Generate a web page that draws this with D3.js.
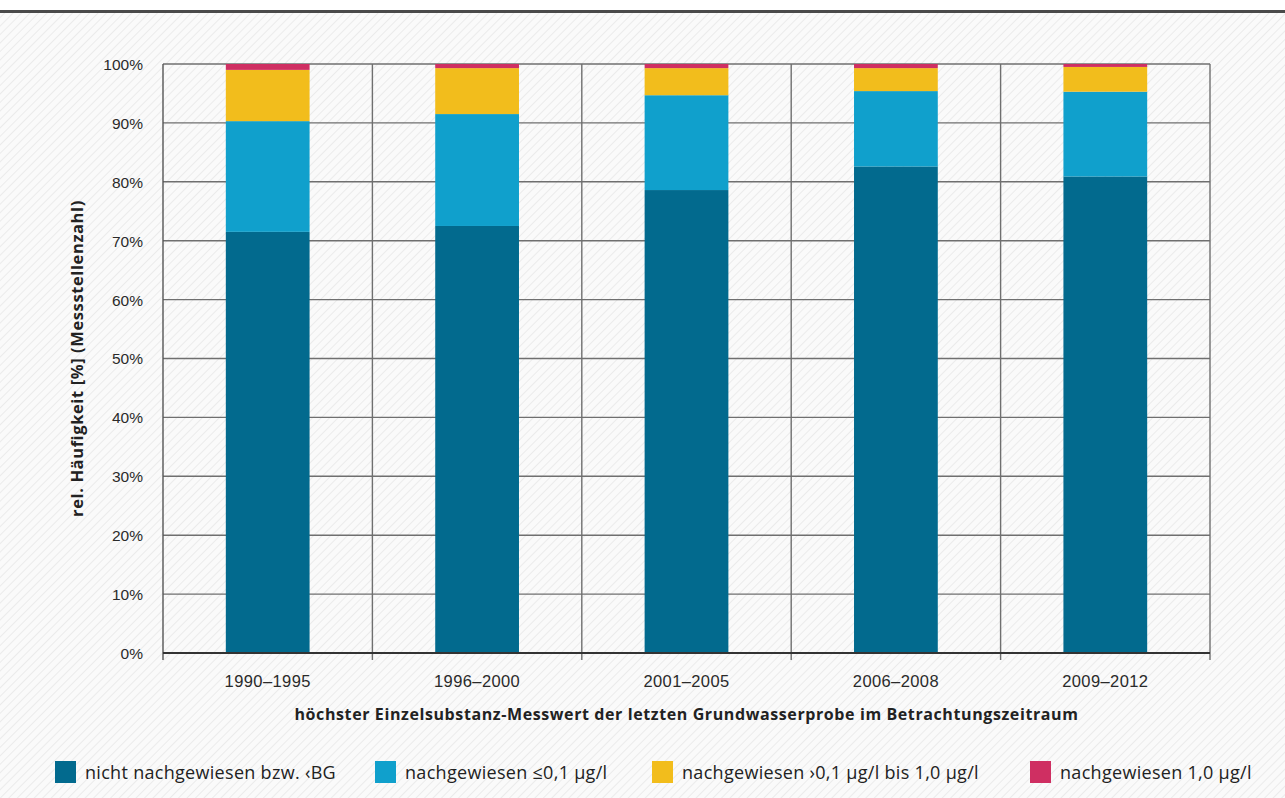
<!DOCTYPE html>
<html lang="de">
<head>
<meta charset="utf-8">
<script src="https://cdn.jsdelivr.net/npm/d3@7"></script>
<style>
  html, body { margin: 0; padding: 0; background: #ffffff; }
  svg { display: block; font-family: "Open Sans", "Noto Sans", sans-serif; }
</style>
</head>
<body>
<svg id="chart" width="1285" height="798"></svg>
<script>
// Zeiträume (Kategorien)
const periods = ["1990–1995", "1996–2000", "2001–2005", "2006–2008", "2009–2012"];

// Anteile der Messstellen je Befundklasse in %
const nichtNachgewiesen = [71.5, 72.5, 78.6, 82.6, 80.9];
const bis01 = [18.8, 19.0, 16.1, 12.8, 14.4];
const bis10 = [8.7, 7.8, 4.6, 3.9, 4.2];
const ueber10 = [1.0, 0.7, 0.7, 0.7, 0.5];

const seriesLabels = [
  "nicht nachgewiesen bzw. ‹BG",
  "nachgewiesen ≤0,1 µg/l",
  "nachgewiesen ›0,1 µg/l bis 1,0 µg/l",
  "nachgewiesen 1,0 µg/l"
];
const seriesKeys = ["nn", "b01", "b10", "u10"];
const seriesColors = ["#026a8e", "#10a0cc", "#f2bd1c", "#cf2f62"];

const yTicks = [0, 10, 20, 30, 40, 50, 60, 70, 80, 90, 100];

const yTitle = "rel. Häufigkeit [%] (Messstellenzahl)";
const xTitle = "höchster Einzelsubstanz-Messwert der letzten Grundwasserprobe im Betrachtungszeitraum";

const rows = periods.map((p, i) => ({
  period: p,
  nn: nichtNachgewiesen[i],
  b01: bis01[i],
  b10: bis10[i],
  u10: ueber10[i]
}));

const svg = d3.select("#chart");
const W = 1285, H = 798;
const margin = { left: 163, right: 75, top: 64, bottom: 145 };
const pw = W - margin.left - margin.right;
const ph = H - margin.top - margin.bottom;

// feine Diagonalschraffur im Hintergrund
const defs = svg.append("defs");
const pat = defs.append("pattern")
  .attr("id", "hatch")
  .attr("width", 6).attr("height", 6)
  .attr("patternUnits", "userSpaceOnUse")
  .attr("patternTransform", "rotate(45)");
pat.append("rect").attr("width", 6).attr("height", 6).attr("fill", "#fafafa");
pat.append("line").attr("x1", 0).attr("y1", 0).attr("x2", 0).attr("y2", 6)
  .attr("stroke", "#ebebeb").attr("stroke-width", 2);

svg.append("rect").attr("width", W).attr("height", H).attr("fill", "url(#hatch)");
svg.append("rect").attr("width", W).attr("height", 10).attr("fill", "#ffffff");

// Kopflinie
svg.append("rect").attr("x", 0).attr("y", 10).attr("width", W).attr("height", 3).attr("fill", "#4a4a4a");

const g = svg.append("g").attr("transform", `translate(${margin.left},${margin.top})`);

const x = d3.scaleBand().domain(periods).range([0, pw]).paddingInner(0).paddingOuter(0);
const y = d3.scaleLinear().domain([0, 100]).range([ph, 0]);

// horizontale Gitterlinien
g.append("g")
  .selectAll("line")
  .data(yTicks.filter(t => t > 0))
  .join("line")
  .attr("x1", 0).attr("x2", pw)
  .attr("y1", d => y(d)).attr("y2", d => y(d))
  .attr("stroke", "#6f6f6f").attr("stroke-width", 1.4);

// vertikale Trennlinien zwischen den Zeiträumen
const bounds = periods.map(p => x(p)).concat([pw]);
g.append("g")
  .selectAll("line")
  .data(bounds)
  .join("line")
  .attr("x1", d => d).attr("x2", d => d)
  .attr("y1", y(100)).attr("y2", ph + 7)
  .attr("stroke", d => (d === 0 ? "#555" : "#6f6f6f"))
  .attr("stroke-width", 1.4);

// gestapelte Säulen
const stack = d3.stack().keys(seriesKeys);
const layers = stack(rows);
const barW = x.bandwidth() * 0.4;

g.append("g")
  .selectAll("g")
  .data(layers)
  .join("g")
  .attr("fill", (d, i) => seriesColors[i])
  .selectAll("rect")
  .data(d => d)
  .join("rect")
  .attr("x", d => x(d.data.period) + (x.bandwidth() - barW) / 2)
  .attr("width", barW)
  .attr("y", d => y(d[1]))
  .attr("height", d => y(d[0]) - y(d[1]));

// Nulllinie
g.append("line")
  .attr("x1", 0).attr("x2", pw)
  .attr("y1", y(0)).attr("y2", y(0))
  .attr("stroke", "#333").attr("stroke-width", 2);

// y-Achse
const yAxis = d3.axisLeft(y).tickValues(yTicks).tickFormat(d => d + "%").tickSize(0).tickPadding(20);
const ya = g.append("g").call(yAxis);
ya.select(".domain").remove();
ya.selectAll("text")
  .attr("font-size", 15.5).attr("font-weight", 500).attr("fill", "#2a2a2a").attr("dy", "0.35em");

// x-Achse
const xAxis = d3.axisBottom(x).tickSize(0).tickPadding(22);
const xa = g.append("g").attr("transform", `translate(0,${ph})`).call(xAxis);
xa.select(".domain").remove();
xa.selectAll("text")
  .attr("font-size", 16.5).attr("font-weight", 500).attr("letter-spacing", 0.4).attr("fill", "#2a2a2a");

// Achsentitel
svg.append("text")
  .attr("x", margin.left + pw / 2).attr("y", 720)
  .attr("text-anchor", "middle")
  .attr("font-size", 16).attr("font-weight", "bold").attr("letter-spacing", 0.6).attr("fill", "#222")
  .text(xTitle);

svg.append("text")
  .attr("transform", `translate(83,${margin.top + ph / 2}) rotate(-90)`)
  .attr("text-anchor", "middle")
  .attr("font-size", 16.5).attr("font-weight", "bold").attr("letter-spacing", 0.6).attr("fill", "#222")
  .text(yTitle);

// Legende
const legendX = [55, 375, 652, 1030];
const lg = svg.append("g");
seriesLabels.forEach((lab, i) => {
  lg.append("rect")
    .attr("x", legendX[i]).attr("y", 761)
    .attr("width", 21).attr("height", 22)
    .attr("fill", seriesColors[i]);
  lg.append("text")
    .attr("x", legendX[i] + 30).attr("y", 779)
    .attr("font-size", 18).attr("font-weight", 500).attr("letter-spacing", 0.3).attr("fill", "#222")
    .text(lab);
});
</script>
</body>
</html>
